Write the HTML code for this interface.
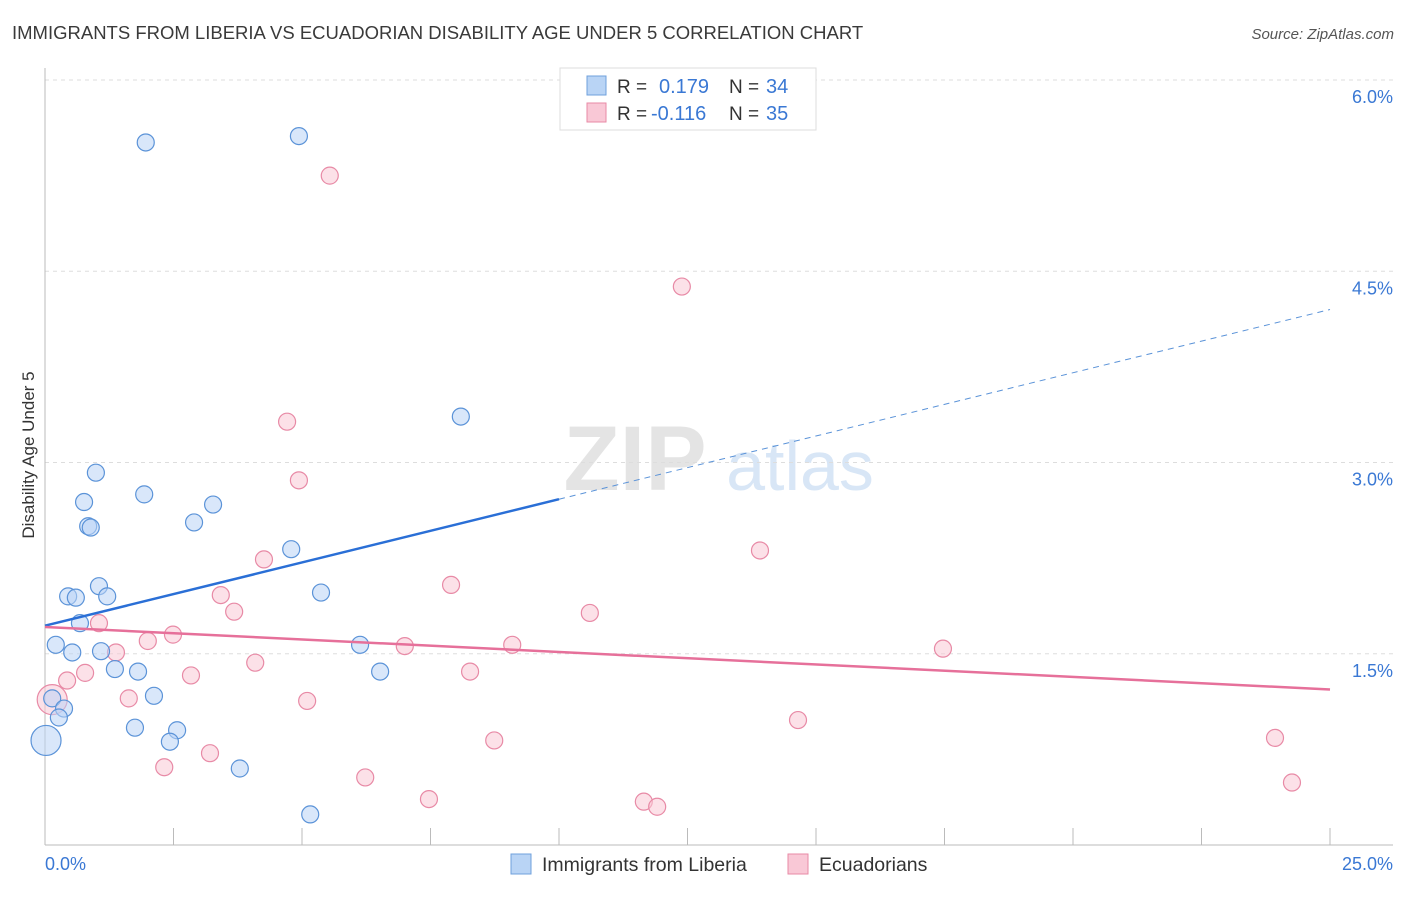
<!DOCTYPE html>
<html><head><meta charset="utf-8"><style>
body{margin:0;background:#fff;font-family:"Liberation Sans",sans-serif}
svg text{font-family:"Liberation Sans",sans-serif}
</style></head><body>
<svg width="1406" height="892" xmlns="http://www.w3.org/2000/svg">
<text x="12" y="39" font-size="18.5" fill="#3a3a3a">IMMIGRANTS FROM LIBERIA VS ECUADORIAN DISABILITY AGE UNDER 5 CORRELATION CHART</text>
<text x="1394" y="39" font-size="15" fill="#555" text-anchor="end" font-style="italic">Source: ZipAtlas.com</text>
<text x="34" y="455" font-size="17" fill="#333" text-anchor="middle" transform="rotate(-90 34 455)">Disability Age Under 5</text>
<g><text x="635" y="490" font-size="92" fill="#e4e4e4" text-anchor="middle" font-family="Liberation Serif" font-weight="bold">ZIP</text><text x="800" y="490" font-size="70" fill="#d8e6f6" text-anchor="middle">atlas</text></g>
<g id="grid"></g><g id="axes"></g><g id="pts"></g><g id="lines"></g>
<g>
<rect x="560" y="68" width="256" height="62" fill="#fff" stroke="#ddd"/>
<rect x="587" y="76" width="19" height="19" fill="#b9d4f5" stroke="#6fa0dc"/>
<text x="617" y="93" font-size="19" fill="#333">R = </text><text x="659" y="93" font-size="20" fill="#3a78d4">0.179</text>
<text x="729" y="93" font-size="19" fill="#333">N = </text><text x="766" y="93" font-size="20" fill="#3a78d4">34</text>
<rect x="587" y="103" width="19" height="19" fill="#f9c8d6" stroke="#e88aa6"/>
<text x="617" y="120" font-size="19" fill="#333">R = </text><text x="651" y="120" font-size="20" fill="#3a78d4">-0.116</text>
<text x="729" y="120" font-size="19" fill="#333">N = </text><text x="766" y="120" font-size="20" fill="#3a78d4">35</text>
</g>
<g>
<rect x="511" y="854" width="20" height="20" fill="#b9d4f5" stroke="#6fa0dc"/><text x="542" y="871" font-size="19.5" fill="#333">Immigrants from Liberia</text>
<rect x="788" y="854" width="20" height="20" fill="#f9c8d6" stroke="#e88aa6"/><text x="819" y="871" font-size="19.5" fill="#333">Ecuadorians</text>
</g>
<text x="45" y="870" font-size="18" fill="#3a78d4">0.0%</text>
<text x="1393" y="870" font-size="18" fill="#3a78d4" text-anchor="end">25.0%</text>
</svg>
<script>
const blueX=[1.96,4.94,8.09,0.99,0.76,1.93,3.27,0.84,0.89,2.90,4.79,0.45,0.60,1.05,1.21,5.37,0.68,0.21,0.53,1.09,1.36,1.81,6.13,6.52,2.12,0.14,0.37,0.27,1.75,2.57,2.43,3.79,0.02,5.16];
const blueY=[5.51,5.56,3.36,2.92,2.69,2.75,2.67,2.50,2.49,2.53,2.32,1.95,1.94,2.03,1.95,1.98,1.74,1.57,1.51,1.52,1.38,1.36,1.57,1.36,1.17,1.15,1.07,1.00,0.92,0.90,0.81,0.60,0.82,0.24];
const pinkX=[5.54,12.39,4.71,4.94,4.26,7.90,13.91,3.42,3.68,10.60,1.05,2.49,2.00,7.00,9.09,17.47,1.38,4.09,0.78,0.43,2.84,8.27,1.63,5.10,14.65,0.14,2.32,3.21,8.74,6.23,7.47,11.65,11.91,23.93,24.26];
const pinkY=[5.25,4.38,3.32,2.86,2.24,2.04,2.31,1.96,1.83,1.82,1.74,1.65,1.60,1.56,1.57,1.54,1.51,1.43,1.35,1.29,1.33,1.36,1.15,1.13,0.98,1.14,0.61,0.72,0.82,0.53,0.36,0.34,0.30,0.84,0.49];
const yTicks=[1.5,3.0,4.5,6.0];
const yTickLabels=["1.5%","3.0%","4.5%","6.0%"];
const blueTrend=[1.72,4.20];
const pinkTrend=[1.71,1.22];
const X=v=>45+v/25*1285, Y=v=>845-v*127.5;
const NS="http://www.w3.org/2000/svg";
function mk(t,a,p){const e=document.createElementNS(NS,t);for(const k in a)e.setAttribute(k,a[k]);document.getElementById(p).appendChild(e);return e;}
yTicks.forEach((t,i)=>{
 const l=mk('line',{x1:45,x2:1393,y1:Y(t),y2:Y(t),stroke:'#ddd','stroke-dasharray':'4 4'},'grid');
 
 
 const tx=mk('text',{x:1393,y:Y(t)+23,'font-size':18,fill:'#3a78d4','text-anchor':'end'},'grid');tx.textContent=yTickLabels[i];
 
 
});
mk('line',{x1:45,x2:45,y1:68,y2:845,stroke:'#bbb'},'axes');
mk('line',{x1:45,x2:1393,y1:845,y2:845,stroke:'#bbb'},'axes');
for(let i=0;i<=10;i++){const t=mk('line',{x1:X(i*2.5),x2:X(i*2.5),y1:828,y2:845,stroke:'#bbb'},'axes');
 
 }
function pts(xs,ys,fill,stroke,name,bigIdx){xs.forEach((x,i)=>{const big=(i===bigIdx);
 const c=mk('circle',{cx:X(x),cy:Y(ys[i]),r:big?15:8.5,fill:fill,stroke:stroke,'stroke-width':1.2,'fill-opacity':0.55},'pts');
 
 });}
pts(pinkX,pinkY,'#f9c8d6','#e88aa6','ecuadorian-point',25);
pts(blueX,blueY,'#b9d4f5','#5b93d8','liberia-point',32);
const by=x=>blueTrend[0]+(blueTrend[1]-blueTrend[0])*x/25;
let l=mk('line',{x1:X(0),y1:Y(by(0)),x2:X(10),y2:Y(by(10)),stroke:'#2a6fd6','stroke-width':2.5},'lines');


l=mk('line',{x1:X(10),y1:Y(by(10)),x2:X(25),y2:Y(by(25)),stroke:'#5b93d8','stroke-width':1,'stroke-dasharray':'6 5'},'lines');


l=mk('line',{x1:X(0),y1:Y(pinkTrend[0]),x2:X(25),y2:Y(pinkTrend[1]),stroke:'#e6709a','stroke-width':2.5},'lines');


</script>
</body></html>
